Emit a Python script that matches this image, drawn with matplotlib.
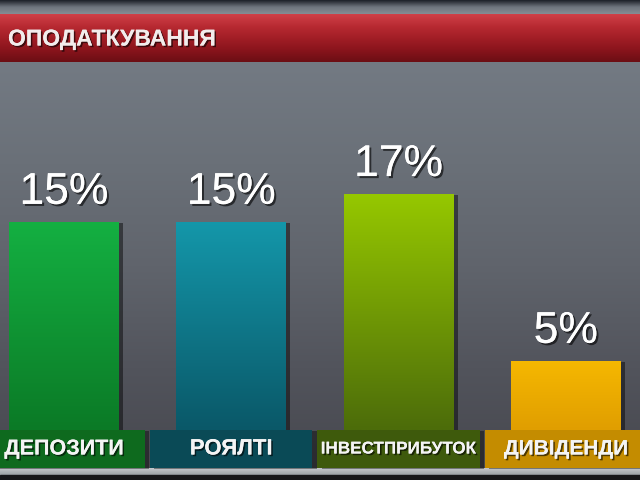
import matplotlib
matplotlib.use("Agg")
import matplotlib.pyplot as plt
import matplotlib.patheffects as pe
import numpy as np
from matplotlib.colors import LinearSegmentedColormap

title = "ОПОДАТКУВАННЯ"
categories = ["ДЕПОЗИТИ", "РОЯЛТІ", "ІНВЕСТПРИБУТОК", "ДИВІДЕНДИ"]
values = [15, 15, 17, 5]
value_labels = ["15%", "15%", "17%", "5%"]

bar_top_colors = ["#14b042", "#1497aa", "#96c800", "#f6b800"]
bar_bot_colors = ["#0b7a26", "#0a5868", "#4c6c0a", "#e09e00"]
box_colors = ["#0e6a1e", "#0a4a56", "#3e5a0c", "#c48c00"]
label_sizes = [15.5, 16, 12.3, 15]

W, H = 640, 480
fig = plt.figure(figsize=(6.4, 4.8), dpi=100)

# background axes in pixel coordinates
bg = fig.add_axes([0, 0, 1, 1])
bg.set_xlim(0, W)
bg.set_ylim(H, 0)
bg.axis("off")

grad = np.linspace(0, 1, 256).reshape(-1, 1)
bg_cmap = LinearSegmentedColormap.from_list(
    "bg", ["#737a83", "#6a7078", "#60646c", "#52545c", "#47484f"])
bg.imshow(grad, cmap=bg_cmap, aspect="auto", extent=[0, W, 470, 62], zorder=0)

top_cmap = LinearSegmentedColormap.from_list("top", ["#1c2028", "#6e757e", "#868c94"])
bg.imshow(np.linspace(0, 1, 64).reshape(-1, 1), cmap=top_cmap, aspect="auto",
          extent=[0, W, 14, 0], zorder=1)

red_cmap = LinearSegmentedColormap.from_list(
    "red", ["#d04048", "#b82a32", "#a21e26", "#8a141c", "#6c0e14"])
bg.imshow(np.linspace(0, 1, 64).reshape(-1, 1), cmap=red_cmap, aspect="auto",
          extent=[0, W, 62, 14], zorder=1)

bot_cmap = LinearSegmentedColormap.from_list("bot", ["#c4c8cc", "#9aa0a6"])
bg.imshow(np.linspace(0, 1, 32).reshape(-1, 1), cmap=bot_cmap, aspect="auto",
          extent=[0, W, 475, 468], zorder=1)
bg.add_patch(plt.Rectangle((0, 475), W, 5, color="#15161a", zorder=2))

bg.text(8, 39, title, fontsize=16.5, fontweight="bold", color="#f2ecec",
        family=["Liberation Sans", "DejaVu Sans"], va="center", ha="left", zorder=5,
        path_effects=[pe.withSimplePatchShadow(offset=(1.2, -1.2), shadow_rgbFace="black", alpha=0.6),
                      pe.Normal()])

# data axes
k = 13.9          # pixels per percent
spacing = 167.3   # pixels between bars
x0 = 64           # pixel centre of first bar
base = 50         # pixel height of baseline from bottom
ax = fig.add_axes([0, 0, 1, 1])
ax.patch.set_alpha(0)
ax.set_xlim(-x0 / spacing, (W - x0) / spacing)
ax.set_ylim(-base / k, (H - base) / k)
ax.axis("off")

x = np.arange(len(categories))
bars = ax.bar(x, values, width=0.657, color="none", zorder=3,
              path_effects=[pe.SimplePatchShadow(offset=(3, -1), shadow_rgbFace="black", alpha=0.45),
                            pe.Normal()])
for i, b in enumerate(bars):
    cm = LinearSegmentedColormap.from_list("b%d" % i, [bar_top_colors[i], bar_bot_colors[i]])
    xl, w, h = b.get_x(), b.get_width(), b.get_height()
    im = ax.imshow(np.linspace(0, 1, 128).reshape(-1, 1), cmap=cm, aspect="auto",
                   extent=[xl, xl + w, 0, h], zorder=4)
    im.set_clip_path(b)
    ax.annotate(value_labels[i], (x[i], values[i]), xytext=(0, 21), textcoords="offset points",
                ha="center", va="center", fontsize=32, color="white",
                family=["Liberation Sans", "DejaVu Sans"], zorder=6,
                path_effects=[pe.withSimplePatchShadow(offset=(1.5, -1.5), shadow_rgbFace="black", alpha=0.6),
                              pe.Normal()])

box_h = 38 / k
ax.bar(x, [-box_h] * len(x), width=0.97, color=box_colors, zorder=5,
       path_effects=[pe.SimplePatchShadow(offset=(3, -1), shadow_rgbFace="black", alpha=0.4),
                     pe.Normal()])
for i, c in enumerate(categories):
    ax.text(x[i], -box_h / 2, c, ha="center", va="center", fontsize=label_sizes[i],
            fontweight="bold", color="#f4f4f4",
            family=["Liberation Sans", "DejaVu Sans"], zorder=7,
            path_effects=[pe.withSimplePatchShadow(offset=(1.2, -1.2), shadow_rgbFace="black", alpha=0.6),
                          pe.Normal()])

fig.savefig("out.png", dpi=100)
